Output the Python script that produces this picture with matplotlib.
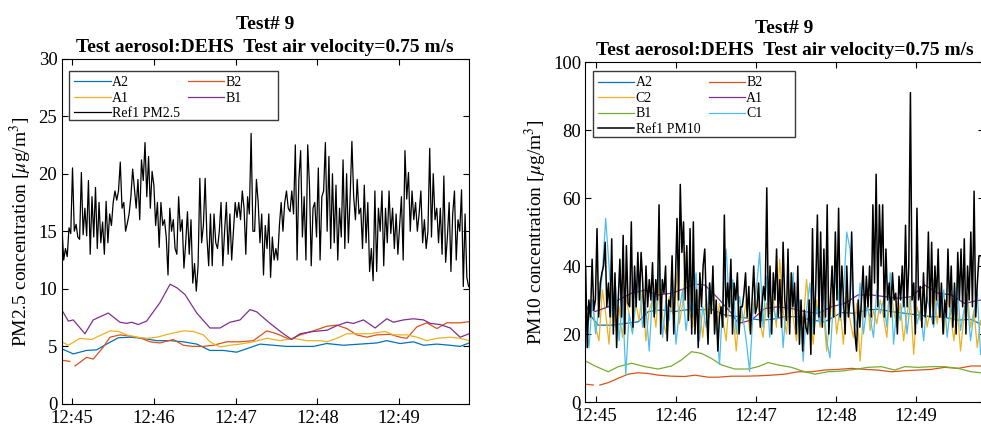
import numpy as np
import matplotlib
matplotlib.use("Agg")
import matplotlib.pyplot as plt
from matplotlib.patches import Rectangle

# time in seconds after 12:45:00
tick_sec = [0, 60, 120, 180, 240]
tick_labels = ['12:45', '12:46', '12:47', '12:48', '12:49']

# ---------------- PM2.5 (left) ----------------
pm25_a2_t = [-7.8, 0.7, 10.5, 17.9, 25.2, 33.8, 42.4, 52.2, 62.0, 71.8, 81.6, 91.4, 101.1, 110.9, 120.7,
             128.1, 137.9, 147.7, 157.5, 167.3, 177.1, 186.9, 199.1, 211.3, 223.6, 230.9, 240.7, 250.5,
             257.9, 267.7, 277.5, 284.8, 291.4]
pm25_a2 = [4.8, 4.35, 4.65, 4.7, 5.2, 5.75, 5.8, 5.7, 5.5, 5.5, 5.4, 5.2, 4.65, 4.65, 4.5, 4.8, 5.2, 5.1,
           5.0, 5.0, 5.0, 5.25, 5.1, 5.2, 5.3, 5.5, 5.25, 5.4, 5.1, 5.2, 5.1, 5.0, 5.3]

pm25_b2_t = [-7.8, -1.7, np.nan, 2.0, 10.5, 15.4, 22.8, 27.7, 35.0, 42.4, 49.7, 57.1, 64.4, 74.2, 81.6,
             88.9, 96.2, 103.6, 113.4, 123.2, 133.0, 142.8, 150.1, 159.9, 167.3, 177.1, 186.9, 194.2,
             201.6, 208.9, 216.3, 223.6, 233.4, 240.7, 245.6, 253.0, 260.3, 267.7, 275.0, 284.8, 291.4]
pm25_b2 = [3.8, 3.7, np.nan, 3.3, 4.05, 3.9, 4.95, 5.8, 6.0, 5.9, 5.75, 5.4, 5.3, 5.6, 5.1, 5.0, 5.0, 5.1,
           5.4, 5.4, 5.5, 6.35, 6.1, 5.6, 6.0, 6.35, 6.75, 6.85, 6.55, 6.0, 5.8, 6.0, 6.05, 5.8, 5.7,
           6.7, 7.05, 6.55, 7.05, 7.05, 7.15]

pm25_a1_t = [-7.8, -2.9, 5.6, 14.2, 27.7, 33.8, 39.9, 47.3, 54.6, 62.0, 71.8, 81.6, 88.9, 96.2, 101.1,
             108.5, 115.8, 123.2, 133.0, 142.8, 152.6, 162.4, 172.2, 182.0, 186.9, 194.2, 201.6, 211.3,
             218.7, 229.7, 235.8, 245.6, 253.0, 260.3, 267.7, 277.5, 284.8, 291.4]
pm25_a1 = [5.4, 5.1, 5.7, 5.6, 6.35, 6.3, 6.0, 5.8, 5.7, 5.8, 6.1, 6.35, 6.3, 6.0, 5.4, 4.95, 5.1, 5.2,
           5.4, 5.7, 5.5, 5.7, 5.5, 5.5, 5.4, 5.7, 6.1, 6.1, 6.1, 6.3, 6.0, 6.0, 5.8, 5.5, 5.7, 5.8, 5.7, 5.5]

pm25_b1_t = [-7.8, -2.9, 0.7, 9.3, 15.4, 26.4, 35.0, 39.9, 43.6, 48.5, 54.6, 64.4, 71.8, 76.7, 82.8,
             91.4, 101.1, 108.5, 115.8, 123.2, 130.5, 135.4, 145.2, 155.0, 161.1, 167.3, 177.1, 186.9,
             194.2, 201.6, 206.5, 213.8, 222.4, 230.9, 235.8, 243.2, 250.5, 257.9, 262.8, 270.1, 277.5,
             284.8, 291.4]
pm25_b1 = [8.2, 7.2, 7.3, 6.1, 7.3, 7.9, 7.1, 7.0, 7.1, 6.9, 7.2, 8.8, 10.4, 10.1, 9.5, 7.9, 6.6, 6.6,
           7.1, 7.3, 8.2, 8.0, 7.0, 6.1, 5.6, 6.1, 6.3, 6.4, 6.8, 7.1, 7.0, 7.3, 6.6, 7.4, 7.1, 7.3, 7.4,
           7.3, 7.0, 6.9, 6.6, 5.8, 6.1]

ref_pm25 = [15.4, 12.5, 13.5, 12.8, 15.3, 14.8, 20.5, 15, 15.6, 14.5, 14.3, 20.1, 14.7, 17, 14.6, 19.4,
            13, 18, 14.5, 18.8, 13.5, 17.5, 14, 15.8, 13, 17.6, 14, 16.5, 15.5, 17.5, 18.5, 17.7, 18.5,
            21, 17, 17.5, 15, 15.7, 16.5, 18, 20.4, 18.7, 17, 19.5, 16, 21.2, 19.4, 22.7, 18, 21.5, 17,
            20.2, 19, 15.5, 17.5, 13.6, 17.5, 15.5, 16, 14.5, 11.2, 17, 15, 16, 13.5, 13, 18, 15, 16,
            11.8, 14, 16.7, 13, 16, 10.5, 12.2, 9.8, 12, 19.6, 14, 15.5, 19.6, 14.5, 12, 16.5, 12, 16.5,
            14, 13.5, 15, 17.5, 12, 15, 17.5, 13, 16.5, 12.5, 15, 17.5, 16.2, 17.5, 16, 18.5, 17, 13,
            18, 16.5, 23.5, 15, 15, 19.5, 17.5, 14, 16.5, 11.2, 15.5, 13.5, 16.5, 11, 14.5, 12.5, 13.5,
            12.5, 15.5, 17.5, 15, 17.5, 18.5, 17, 16.7, 18.5, 16.5, 22.5, 12.5, 19.5, 22, 14.5, 18,
            12.5, 22.5, 19, 12, 17, 17.5, 14.5, 20.5, 12.5, 18, 18.5, 22.7, 15, 21.5, 13.5, 20, 14, 19,
            12.5, 17, 14.5, 21.2, 13.5, 20, 14, 18, 22.8, 18, 16, 19.5, 16.5, 17, 13.5, 19, 14, 17.5,
            11.5, 13.5, 10.7, 18.5, 11.5, 17, 15, 18.5, 12, 17, 14, 18.5, 14.8, 17, 13.5, 16.5, 13,
            15.5, 18, 12.5, 22, 17.8, 20.1, 15, 18.5, 16, 17.5, 15, 16.5, 18.5, 14, 16, 13.5, 15, 22.2,
            14.5, 20, 16, 17, 14, 17, 13, 19.8, 12.3, 14.5, 17.5, 11.5, 16.5, 18.5, 12.5, 16, 15, 18.6,
            10.2, 16.5, 11, 10.2]

# ---------------- PM10 (right) ----------------
pm10_a2_t = [-7.25, -3.5, 1.5, 11.5, 21.5, 31.5, 39.0, 49.0, 59.0, 66.5, 76.5, 86.5, 96.5, 106.5, 114.0,
             124.0, 131.5, 141.5, 151.5, 161.5, 171.5, 184.0, 194.0, 204.0, 211.5, 221.5, 231.5, 241.5,
             251.5, 261.5, 271.5, 281.5, 288.5]
pm10_a2 = [28, 25, 22.6, 22.6, 23.1, 23.6, 26.6, 27.1, 26.6, 27.1, 27.1, 27.3, 25.6, 25.1, 24.6, 24.1,
           24.3, 25.1, 25.1, 24.1, 23.6, 26.3, 26.1, 27.1, 27.3, 26.6, 26.1, 25.6, 25.1, 24.9, 24.1,
           24.3, 22.9]

pm10_b2_t = [-7.25, -2.25, np.nan, 2.75, 9.0, 16.5, 24.0, 31.5, 39.0, 46.5, 56.5, 66.5, 74.0, 84.0, 91.5,
             101.5, 111.5, 121.5, 131.5, 141.5, 151.5, 161.5, 171.5, 181.5, 191.5, 201.5, 211.5, 221.5,
             231.5, 241.5, 251.5, 261.5, 271.5, 281.5, 288.5]
pm10_b2 = [5.2, 5.0, np.nan, 5.0, 5.7, 7.0, 8.2, 8.6, 8.4, 7.9, 7.6, 7.5, 7.9, 7.3, 7.3, 7.6, 7.6, 7.7,
           7.9, 8.2, 8.9, 8.9, 9.4, 9.6, 9.9, 9.6, 9.4, 8.9, 9.2, 9.4, 9.6, 10.2, 9.9, 10.6, 10.6]

pm10_c2 = [28, 24, 30, 22, 18, 33, 26, 17,
           35, 22, 28, 19, 31, 26, 21, 29,
           24, 33, 18, 27, 30, 22, 35, 25,
           20, 31, 26, 38, 23, 29, 44, 27,
           22, 34, 28, 19, 30, 25, 37, 21,
           29, 24, 18, 32, 26, 15, 28, 23,
           30, 21, 27, 35, 24, 19, 29, 26,
           31, 22, 42, 27, 20, 33, 25, 18,
           28, 23, 36, 26, 17, 30, 22, 27,
           15, 25, 33, 20, 28, 17, 31, 24,
           19, 29, 12, 26, 33, 21, 27, 23,
           30, 25, 19, 34, 27, 22, 29, 18,
           26, 31, 14, 28, 24, 35, 22, 27,
           36, 23, 29, 20, 31, 26, 18, 28,
           15, 25, 32, 22, 27, 16, 24]

pm10_a1_t = [-7.25, -1.0, 9.0, 16.5, 26.5, 36.5, 46.5, 56.5, 66.5, 74.0, 81.5, 91.5, 101.5, 106.5, 116.5,
             126.5, 136.5, 146.5, 156.5, 166.5, 176.5, 186.5, 196.5, 206.5, 216.5, 226.5, 236.5, 246.5,
             256.5, 266.5, 276.5, 288.5]
pm10_a1 = [28.2, 26.6, 28, 30, 32, 32.9, 31.5, 32, 33.4, 34.7, 34.4, 30.5, 26.1, 23.1, 24.1, 27.5, 28,
           27.5, 26.6, 26.1, 28, 29, 31.5, 31.5, 31, 30.5, 31, 34.4, 32, 31.5, 29, 30]

pm10_b1_t = [-7.25, -1.0, 9.0, 16.5, 26.5, 36.5, 46.5, 56.5, 64.0, 71.5, 79.0, 86.5, 94.0, 104.0, 114.0,
             121.5, 129.0, 136.5, 146.5, 156.5, 164.0, 174.0, 184.0, 194.0, 204.0, 214.0, 224.0, 231.5,
             241.5, 251.5, 261.5, 271.5, 281.5, 288.5]
pm10_b1 = [11.9, 10.6, 8.9, 10.4, 11.4, 10.4, 9.7, 10.6, 12.4, 14.8, 14.3, 12.8, 10.9, 9.7, 9.7, 10.4,
           11.6, 10.9, 10.2, 8.9, 8.2, 8.9, 9.1, 9.6, 10.2, 10.4, 9.4, 10.4, 10.2, 10.4, 10.4, 9.9, 8.9, 8.6]

pm10_c1 = [24, 16, 30, 20, 28, 38, 54, 40,
           25, 34, 18, 30, 8, 26, 20, 30,
           38, 22, 28, 15, 32, 26, 40, 19,
           30, 24, 36, 17, 27, 33, 21, 29,
           25, 38, 18, 28, 22, 35, 30, 24,
           11, 30, 45, 27, 36, 20, 31, 25,
           18, 9, 26, 33, 44, 22, 37, 19,
           28, 24, 34, 16, 29, 25, 38, 21,
           30, 12, 27, 35, 20, 28, 23, 32,
           18, 13, 29, 40, 24, 31, 50, 45,
           27, 22, 35, 20, 28, 25, 19, 33,
           26, 30, 22, 38, 17, 28, 24, 32,
           20, 29, 35, 23, 27, 18, 31, 26,
           22, 30, 25, 33, 19, 28, 24, 36,
           21, 27, 30, 18, 26, 32, 14]

ref_pm10 = [40, 16, 30, 25, 42, 27, 30, 51, 25, 35, 38, 40, 47, 28, 35, 25, 48, 20, 38, 16, 30, 42, 25,
            49, 20, 46, 29, 28, 53, 22, 40, 28, 44, 30, 44, 35, 22, 40, 28, 36, 30, 41, 25, 36, 30, 58,
            20, 36, 32, 40, 18, 30, 28, 43, 20, 35, 54, 30, 64, 44, 53, 30, 46, 24, 51, 20, 53, 20, 33,
            16, 38, 28, 40, 45, 28, 17, 35, 26, 40, 20, 30, 15, 25, 28, 22, 55, 25, 35, 28, 42, 20, 35,
            30, 38, 20, 28, 28, 32, 38, 25, 34, 20, 30, 40, 26, 28, 35, 22, 28, 34, 30, 63, 25, 40, 20,
            38, 30, 45, 25, 36, 22, 47, 30, 24, 45, 20, 38, 28, 35, 20, 40, 17, 30, 15, 27, 22, 20, 30,
            14, 51, 20, 34, 55, 25, 50, 22, 45, 25, 58, 20, 30, 40, 25, 50, 30, 57, 25, 40, 30, 20, 40,
            25, 30, 50, 30, 20, 15, 30, 22, 30, 40, 25, 37, 28, 40, 25, 58, 35, 67, 28, 58, 40, 58, 25,
            45, 30, 35, 25, 38, 30, 32, 20, 37, 30, 40, 28, 52, 28, 40, 91, 30, 35, 20, 57, 30, 34, 22,
            38, 25, 30, 50, 25, 47, 23, 40, 30, 45, 25, 35, 20, 30, 25, 45, 28, 40, 22, 35, 20, 44, 30,
            45, 28, 48, 20, 40, 30, 50, 28, 62, 25, 35, 43, 43]

c_blue = '#0072BD'
c_orange = '#D95319'
c_yellow = '#EDB120'
c_purple = '#7E2F8E'
c_green = '#77AC30'
c_cyan = '#4DBEEE'

plt.rcParams['font.family'] = ['Liberation Serif', 'DejaVu Serif']
plt.rcParams['mathtext.fontset'] = 'stix'

title = 'Test# 9\nTest aerosol:DEHS  Test air velocity=0.75 m/s'


def style_axes(ax, ylim, yticks, xlim):
    ax.set_xlim(*xlim)
    ax.set_ylim(*ylim)
    ax.set_yticks(yticks)
    ax.set_xticks(tick_sec)
    ax.set_xticklabels(tick_labels)
    ax.tick_params(direction='in', top=True, right=True, length=4, width=0.8,
                   labelsize=13.5)
    ax.tick_params(axis='x', pad=4.5)
    ax.tick_params(axis='y', pad=3)
    for s in ax.spines.values():
        s.set_linewidth(0.8)
    ax.set_title(title, fontsize=14, fontweight='bold', pad=5, linespacing=1.4)


def make_legend(ax, handles, box):
    # box = (x0, y0, x1, y1) of the legend frame in axes fraction
    x0, y0, x1, y1 = box
    ax.add_patch(Rectangle((x0, y0), x1 - x0, y1 - y0, transform=ax.transAxes,
                           facecolor='white', edgecolor='#3a3a3a', lw=1.0, zorder=4.9,
                           clip_on=False))
    ax.legend(handles=handles, ncol=2, loc='upper left', bbox_to_anchor=(x0, y1),
              borderaxespad=0, fontsize=10, handlelength=2.6, handletextpad=0.1,
              labelspacing=0.18, columnspacing=0.6, borderpad=0.4, frameon=False)


fig = plt.figure(figsize=(9.81, 4.28), dpi=100)
lw = 0.9

ax1 = fig.add_axes([0.0627, 0.0561, 0.4154, 0.8072])
h_a2, = ax1.plot(pm25_a2_t, pm25_a2, color=c_blue, lw=lw, label='A2')
h_b2, = ax1.plot(pm25_b2_t, pm25_b2, color=c_orange, lw=lw, label='B2')
h_a1, = ax1.plot(pm25_a1_t, pm25_a1, color=c_yellow, lw=lw, label='A1')
h_b1, = ax1.plot(pm25_b1_t, pm25_b1, color=c_purple, lw=lw, label='B1')
t_ref25 = np.linspace(-7.6, 291, len(ref_pm25))
h_ref, = ax1.plot(t_ref25, ref_pm25, color='black', lw=lw, label='Ref1 PM2.5')
style_axes(ax1, (0, 30), [0, 5, 10, 15, 20, 25, 30], (-7.9, 291.3))
ax1.set_ylabel('PM2.5 concentration [$\\mu$g/m$^3$]', fontsize=14, labelpad=3)
make_legend(ax1, [h_a2, h_a1, h_ref, h_b2, h_b1], (0.018, 0.822, 0.531, 0.965))

ax2 = fig.add_axes([0.5966, 0.0607, 0.4064, 0.7944])
g_a2, = ax2.plot(pm10_a2_t, pm10_a2, color=c_blue, lw=lw, label='A2')
g_b2, = ax2.plot(pm10_b2_t, pm10_b2, color=c_orange, lw=lw, label='B2')
t_c = np.linspace(-8, 288.5, len(pm10_c2))
g_c2, = ax2.plot(t_c, pm10_c2, color=c_yellow, lw=lw, label='C2')
g_a1, = ax2.plot(pm10_a1_t, pm10_a1, color=c_purple, lw=lw, label='A1')
g_b1, = ax2.plot(pm10_b1_t, pm10_b1, color=c_green, lw=lw, label='B1')
g_c1, = ax2.plot(np.linspace(-8, 288.5, len(pm10_c1)), pm10_c1, color=c_cyan, lw=lw, label='C1')
t_ref10 = np.linspace(-8, 288.5, len(ref_pm10))
g_ref, = ax2.plot(t_ref10, ref_pm10, color='black', lw=lw + 0.2, label='Ref1 PM10')
style_axes(ax2, (0, 100), [0, 20, 40, 60, 80, 100], (-8.25, 291))
ax2.set_ylabel('PM10 concentration [$\\mu$g/m$^3$]', fontsize=14, labelpad=3)
make_legend(ax2, [g_a2, g_c2, g_b1, g_ref, g_b2, g_a1, g_c1], (0.0186, 0.779, 0.527, 0.974))

fig.savefig('out.png', dpi=100)
